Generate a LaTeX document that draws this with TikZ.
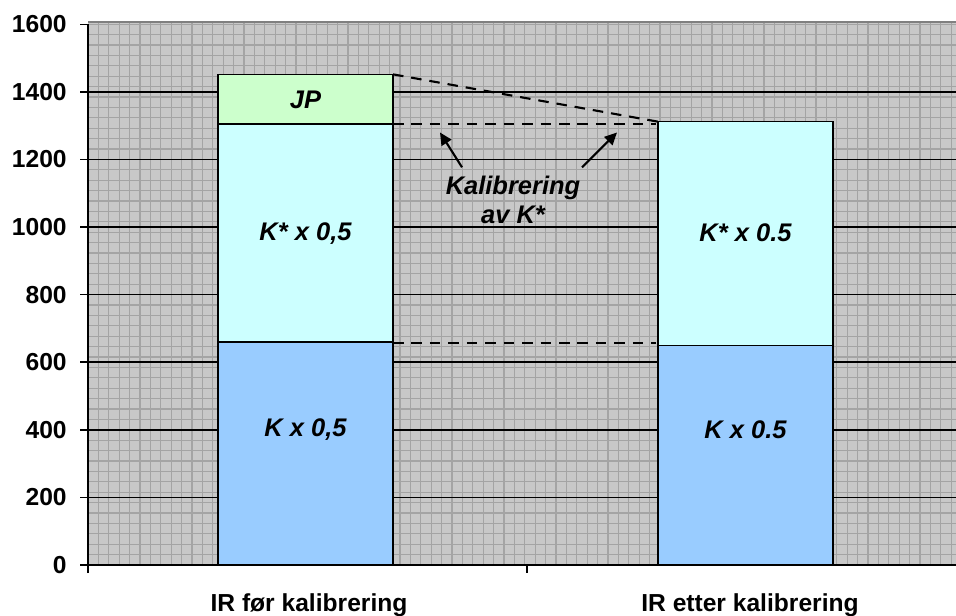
\documentclass[tikz,border=0pt]{standalone}
\usepackage{fontspec}
\setmainfont{Liberation Sans}
\usetikzlibrary{arrows.meta}

\definecolor{kblue}{HTML}{99CCFF}
\definecolor{kcyan}{HTML}{CCFFFF}
\definecolor{jpgreen}{HTML}{CCFFCC}
\definecolor{bggray}{HTML}{C8C8C8}
\definecolor{gridgray}{HTML}{A4A4A4}

\begin{document}
\begin{tikzpicture}[x=0.02cm, y=0.02cm,
  barlabel/.style={font=\fontsize{14.5}{16.5}\selectfont\bfseries\itshape},
  ticklabel/.style={font=\fontsize{14}{16}\selectfont\bfseries, anchor=east, inner sep=0pt},
  catlabel/.style={font=\fontsize{14}{16}\selectfont\bfseries, anchor=base, inner sep=0pt},
  barbox/.style={draw=black, line width=0.9pt},
  guide/.style={dash pattern=on 6pt off 4.5pt, line width=1.2pt},
  calib/.style={-{Triangle[length=7pt,width=6.5pt]}, line width=1.2pt}]

  % Fix the size of the picture
  \useasboundingbox (0,0) rectangle (956,615);

  % Draw the grey plot area with its fine grid
  \fill[bggray] (88,50) rectangle (956,593);
  \foreach \i in {1,...,84}
    \draw[gridgray, line width=0.7pt] ({88+\i*10.4},50) -- ({88+\i*10.4},593);
  \foreach \j in {1,...,52}
    \draw[gridgray, line width=0.7pt] (88,{50+\j*10.4}) -- (956,{50+\j*10.4});
  \draw[gray, line width=1.5pt] (88,593) -- (956,593);

  % From here on y is in data units
  \begin{scope}[shift={(0,50)}, y=0.0067625cm]

  % Draw the horizontal grid lines, ticks and tick labels
  \foreach \v in {200,400,...,1400}
    \draw[line width=0.9pt] (88,\v) -- (956,\v);
  \foreach \v in {0,200,...,1600} {
    \draw[line width=0.9pt] (80,\v) -- (88,\v);
    \node[ticklabel] at (67,\v) {\v};
  }

  % Draw the bar before calibration
  \draw[barbox, fill=kblue] (218,0) rectangle (393,660);
  \draw[barbox, fill=kcyan] (218,660) rectangle (393,1305);
  \draw[barbox, fill=jpgreen] (218,1305) rectangle (393,1452);

  % Draw the bar after calibration
  \draw[barbox, fill=kblue] (658,0) rectangle (833,650);
  \draw[barbox, fill=kcyan] (658,650) rectangle (833,1312);

  % Draw the axes
  \draw[line width=1.1pt] (88,-24) -- (88,1600);
  \draw[line width=1.1pt] (88,0) -- (956,0);
  \draw[line width=1.1pt] (527,0) -- (527,-24);

  % Add labels inside the bars
  \node[barlabel] (kleft) at (305.5,400) {K x 0,5};
  \node[barlabel] (kstarleft) at (305.5,982) {K* x 0,5};
  \node[barlabel] (jp) at (305.5,1378) {JP};
  \node[barlabel] (kright) at (745.5,400) {K x 0.5};
  \node[barlabel] (kstarright) at (745.5,982) {K* x 0.5};

  % Points for the dashed guide lines
  \coordinate (jptop) at (393,1452);
  \coordinate (newtop) at (658,1312);
  \coordinate (oldtop) at (393,1305);
  \coordinate (oldtopend) at (656,1305);
  \coordinate (kold) at (393,658);
  \coordinate (koldend) at (656,658);

  % Draw the dashed guide lines
  \draw[guide] (jptop) -- (newtop);
  \draw[guide] (oldtop) -- (oldtopend);
  \draw[guide] (kold) -- (koldend);

  % Add the calibration note and its arrows
  \node[barlabel, align=center] (calibnote) at (513,1080) {Kalibrering\\av K*};
  \coordinate (arrowleft) at (462,1177);
  \coordinate (tipleft) at (440,1280);
  \coordinate (arrowright) at (582,1177);
  \coordinate (tipright) at (617,1280);
  \draw[calib] (arrowleft) -- (tipleft);
  \draw[calib] (arrowright) -- (tipright);

  \end{scope}

  % Add the category labels
  \node[catlabel] (before) at (309,3.5) {IR før kalibrering};
  \node[catlabel] (after) at (750,3.5) {IR etter kalibrering};

\end{tikzpicture}
\end{document}
